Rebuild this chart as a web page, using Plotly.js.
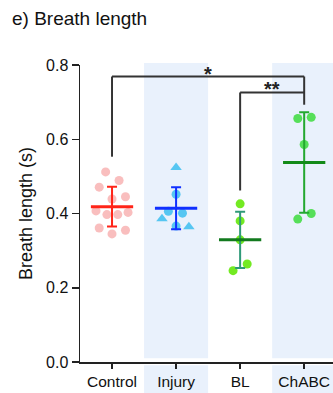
<!DOCTYPE html>
<html>
<head>
<meta charset="utf-8">
<script src="https://cdn.plot.ly/plotly-3.0.1.min.js"></script>
<style>
  html, body { margin: 0; padding: 0; background: #fff; }
  #chart { width: 333px; height: 393px; }
</style>
</head>
<body>
<div id="chart"></div>
<script>
// Groups along the x axis
const categories = ['Control', 'Injury', 'BL', 'ChABC'];

// Individual breath lengths (s) per animal
const controlValues = [0.512, 0.471, 0.489, 0.445, 0.439, 0.407, 0.397, 0.397, 0.403, 0.361, 0.355, 0.345];
const injuryCircleValues = [0.452, 0.406, 0.401, 0.366];
const injuryTriangleValues = [0.524, 0.386, 0.364];
const blValues = [0.426, 0.380, 0.329, 0.264, 0.246];
const chabcValues = [0.656, 0.659, 0.586, 0.400, 0.385];

// Y axis ticks
const yTickValues = [0.0, 0.2, 0.4, 0.6, 0.8];

// Significance comparisons: [left group, right group, label]
const comparisons = [
  { from: 0, to: 3, label: '*' },
  { from: 2, to: 3, label: '**' }
];

// Horizontal scatter of the dots inside each column (category units)
const controlJitter = [-0.10, -0.20, 0.11, 0.21, 0.0, -0.25, -0.08, 0.09, 0.25, -0.20, 0.21, 0.0];
const injuryCircleJitter = [0.0, -0.12, 0.10, 0.0];
const injuryTriangleJitter = [0.0, -0.22, 0.20];
const blJitter = [0.0, 0.0, 0.0, 0.11, -0.11];
const chabcJitter = [-0.10, 0.11, 0.0, 0.11, -0.10];

// Bracket geometry (value units): bar heights and where the legs stop
const bracketBars = [0.769, 0.726];
const bracketLegEnds = [[0.553, 0.693], [0.462, 0.726]];
const starHeights = [0.786, 0.745];

const FONT = '"Liberation Sans", Arial, Helvetica, sans-serif';

function mean(a) { return a.reduce((s, v) => s + v, 0) / a.length; }
function sd(a) {
  const m = mean(a);
  return Math.sqrt(a.reduce((s, v) => s + (v - m) * (v - m), 0) / (a.length - 1));
}

function dots(idx, values, jitter, symbol, color) {
  return {
    type: 'scatter', mode: 'markers',
    x: values.map((_, i) => idx + jitter[i]),
    y: values,
    marker: { symbol: symbol, size: symbol === 'triangle-up' ? 10 : 9, color: color, line: { width: 0 } },
    hoverinfo: 'y', showlegend: false
  };
}

function summary(idx, values, meanColor, barColor) {
  return {
    type: 'scatter', mode: 'markers',
    x: [idx], y: [mean(values)],
    marker: { size: 1, opacity: 0 },
    error_y: { type: 'data', array: [sd(values)], visible: true, color: barColor, thickness: 2, width: 5 },
    error_x: { type: 'data', array: [0.33], visible: true, color: meanColor, thickness: 3, width: 0 },
    hoverinfo: 'y', showlegend: false
  };
}

const injuryAll = injuryCircleValues.concat(injuryTriangleValues);

const traces = [
  dots(0, controlValues, controlJitter, 'circle', 'rgba(243,125,125,0.5)'),
  dots(1, injuryCircleValues, injuryCircleJitter, 'circle', 'rgba(60,190,240,0.85)'),
  dots(1, injuryTriangleValues, injuryTriangleJitter, 'triangle-up', 'rgba(60,190,240,0.85)'),
  dots(2, blValues, blJitter, 'circle', 'rgba(100,232,10,0.9)'),
  dots(3, chabcValues, chabcJitter, 'circle', 'rgba(60,220,60,0.85)'),
  summary(0, controlValues, '#ff2418', '#ff2418'),
  summary(1, injuryAll, '#1030ff', '#1030ff'),
  summary(2, blValues, '#127a1e', '#2f9a78'),
  summary(3, chabcValues, '#128a18', '#24a830')
];

// Light blue shading behind alternate columns (gap left at the x axis line)
const shapes = [];
[1, 3].forEach(c => {
  shapes.push({ type: 'rect', layer: 'below', xref: 'x', yref: 'paper',
    x0: c - 0.5, x1: c + 0.5, y0: 0.013, y1: 1.007, fillcolor: '#e9f1fc', line: { width: 0 } });
  shapes.push({ type: 'rect', layer: 'below', xref: 'x', yref: 'paper',
    x0: c - 0.5, x1: c + 0.5, y0: -0.12, y1: -0.011, fillcolor: '#e9f1fc', line: { width: 0 } });
});

// Significance brackets
const annotations = [];
comparisons.forEach((c, k) => {
  const bar = bracketBars[k];
  const legs = bracketLegEnds[k];
  const ln = { color: '#333', width: 2 };
  shapes.push({ type: 'line', xref: 'x', yref: 'y', x0: c.from, x1: c.to, y0: bar, y1: bar, line: ln });
  shapes.push({ type: 'line', xref: 'x', yref: 'y', x0: c.from, x1: c.from, y0: bar, y1: legs[0], line: ln });
  shapes.push({ type: 'line', xref: 'x', yref: 'y', x0: c.to, x1: c.to, y0: bar, y1: legs[1], line: ln });
  annotations.push({ xref: 'x', yref: 'y', x: (c.from + c.to) / 2, y: starHeights[k],
    text: '<b>' + c.label + '</b>', showarrow: false, yanchor: 'middle', yshift: -4,
    font: { family: FONT, size: 20, color: '#222' } });
});

const layout = {
  width: 333, height: 393,
  margin: { l: 80, r: 0, t: 65, b: 31 },
  paper_bgcolor: '#fff', plot_bgcolor: 'rgba(0,0,0,0)',
  font: { family: FONT, color: '#111' },
  title: {
    text: 'e) Breath length', xref: 'container', yref: 'container',
    x: 0.036, xanchor: 'left', y: 0.953, yanchor: 'middle',
    font: { family: FONT, size: 19, color: '#111' }
  },
  xaxis: {
    range: [-0.5, 3.45], tickvals: [0, 1, 2, 3], ticktext: categories,
    showgrid: false, zeroline: false, showline: true, linecolor: '#222', linewidth: 1.5,
    ticks: 'outside', ticklen: 5, tickwidth: 1.5, tickcolor: '#222',
    tickfont: { family: FONT, size: 15.5, color: '#111' }, fixedrange: true
  },
  yaxis: {
    range: [0, 0.8], tickvals: yTickValues, tickformat: '.1f',
    showgrid: false, zeroline: false, showline: true, linecolor: '#222', linewidth: 1.5,
    ticks: 'outside', ticklen: 7, tickwidth: 1.5, tickcolor: '#222',
    tickfont: { family: FONT, size: 16, color: '#111' },
    title: { text: 'Breath length (s)', standoff: 8, font: { family: FONT, size: 18, color: '#111' } },
    fixedrange: true
  },
  shapes: shapes,
  annotations: annotations,
  showlegend: false
};

Plotly.newPlot('chart', traces, layout, { displayModeBar: false, staticPlot: true });
</script>
</body>
</html>
